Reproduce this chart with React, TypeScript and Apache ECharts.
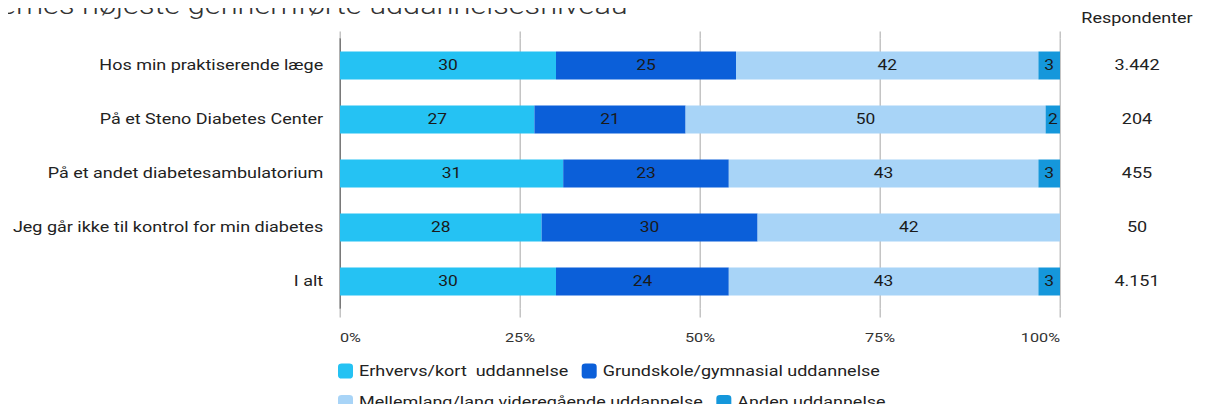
import React, { useEffect, useRef } from "react";
import * as echarts from "echarts";

const titleText = "ernes højeste gennemførte uddannelsesniveau";
const respondentsHeader = "Respondenter";
const categories = [
  "Hos min praktiserende læge",
  "På et Steno Diabetes Center",
  "På et andet diabetesambulatorium",
  "Jeg går ikke til kontrol for min diabetes",
  "I alt",
];
const respondents = ["3.442", "204", "455", "50", "4.151"];
const erhvervs = [30, 27, 31, 28, 30];
const grundskole = [25, 21, 23, 30, 24];
const mellemlang = [42, 50, 43, 42, 43];
const anden = [3, 2, 3, null, 3];
const seriesNames = [
  "Erhvervs/kort  uddannelse",
  "Grundskole/gymnasial uddannelse",
  "Mellemlang/lang videregående uddannelse",
  "Anden uddannelse",
];
const seriesValues = [erhvervs, grundskole, mellemlang, anden];
const colors = ["#25C2F3", "#0B5FD9", "#A8D4F7", "#1597DB"];

const FONT = "Roboto";
const SX = 1.2; // horizontal stretch of the reference picture
const W = 1206 / SX;

export default function App() {
  const ref = useRef<HTMLDivElement>(null);
  useEffect(() => {
    if (!ref.current) return;
    const chart = echarts.init(ref.current, null, { renderer: "svg" });
    const legendBase = {
      itemWidth: 12.5,
      itemHeight: 15,
      itemGap: 11,
      padding: 0,
      icon: "roundRect",
      textStyle: { fontSize: 15, color: "#222", fontFamily: FONT },
    };
    const option = {
      animation: false,
      textStyle: { fontFamily: FONT },
      grid: { left: 340 / SX, right: W - 1060 / SX, top: 38.5, height: 270 },
      graphic: [
        {
          type: "text",
          x: 0,
          y: 5.5,
          style: {
            text: titleText,
            fontSize: 25.6,
            fontFamily: FONT,
            fontWeight: 300,
            fill: "#333",
            verticalAlign: "middle",
          },
        },
        {
          type: "text",
          x: 1137 / SX,
          y: 18.5,
          style: {
            text: respondentsHeader,
            fontSize: 15,
            fontFamily: FONT,
            fill: "#222",
            align: "center",
            verticalAlign: "middle",
          },
        },
      ],
      legend: [
        { ...legendBase, left: 338 / SX, top: 363.5, data: [seriesNames[0], seriesNames[1]] },
        { ...legendBase, left: 338 / SX, top: 395, data: [seriesNames[2], seriesNames[3]] },
      ],
      xAxis: [
        {
          type: "value",
          min: 0,
          max: 100,
          interval: 25,
          position: "bottom",
          axisLine: { show: false },
          axisTick: { show: true, length: 9, lineStyle: { color: "#b5b5b5" } },
          splitLine: { show: true, lineStyle: { color: "#b5b5b5" } },
          axisLabel: {
            formatter: "{value}%",
            margin: 21.5,
            fontSize: 13.5,
            color: "#333",
            alignMinLabel: "left",
            alignMaxLabel: "right",
          },
        },
        {
          type: "value",
          min: 0,
          max: 100,
          interval: 25,
          position: "top",
          axisLine: { show: false },
          axisTick: { show: true, length: 7, lineStyle: { color: "#b5b5b5" } },
          splitLine: { show: false },
          axisLabel: { show: false },
        },
      ],
      yAxis: [
        {
          type: "category",
          data: categories,
          inverse: true,
          axisLine: { show: true, lineStyle: { color: "#666" } },
          axisTick: { show: false },
          axisLabel: { fontSize: 15, color: "#222", margin: 14 },
        },
        {
          type: "category",
          data: respondents,
          inverse: true,
          position: "right",
          axisLine: { show: false },
          axisTick: { show: false },
          axisLabel: { align: "center", margin: 1137 / SX - 1060 / SX, fontSize: 15, color: "#222" },
        },
      ],
      series: seriesNames.map((name, i) => ({
        name,
        type: "bar",
        stack: "total",
        xAxisIndex: 0,
        yAxisIndex: 0,
        barWidth: 28,
        itemStyle: { color: colors[i] },
        label: {
          show: true,
          position: "inside",
          fontSize: 14.5,
          color: "#1a1a1a",
          formatter: (p: any) => (p.value == null || p.value === 0 ? "" : String(p.value)),
        },
        data: seriesValues[i],
      })),
    };
    chart.setOption(option as any);
    return () => chart.dispose();
  }, []);
  return (
    <div style={{ width: 1206, height: 412, margin: -8, overflow: "hidden" }}>
      <div
        ref={ref}
        style={{ width: W, height: 412, transform: `scaleX(${SX})`, transformOrigin: "0 0" }}
      />
    </div>
  );
}
